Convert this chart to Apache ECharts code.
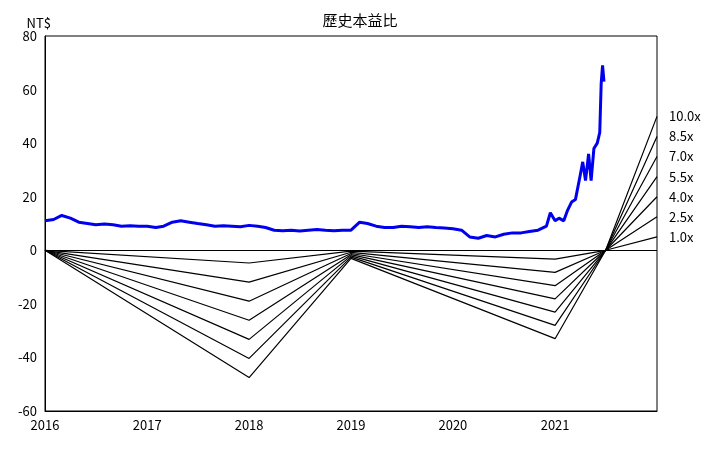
<!DOCTYPE html>
<html><head><meta charset="utf-8">
<script src="https://cdn.jsdelivr.net/npm/echarts@6/dist/echarts.min.js"></script>
<style>html,body{margin:0;padding:0;background:#fff}#c{width:720px;height:455px}</style>
</head><body><div id="c"></div>
<script>
const priceDates = ["2016-01-01","2016-02-01","2016-03-01","2016-04-01","2016-05-01","2016-06-01","2016-07-01","2016-08-01","2016-09-01","2016-10-01","2016-11-01","2016-12-01",
"2017-01-01","2017-02-01","2017-03-01","2017-04-01","2017-05-01","2017-06-01","2017-07-01","2017-08-01","2017-09-01","2017-10-01","2017-11-01","2017-12-01",
"2018-01-01","2018-02-01","2018-03-01","2018-04-01","2018-05-01","2018-06-01","2018-07-01","2018-08-01","2018-09-01","2018-10-01","2018-11-01","2018-12-01",
"2019-01-01","2019-02-01","2019-03-01","2019-04-01","2019-05-01","2019-06-01","2019-07-01","2019-08-01","2019-09-01","2019-10-01","2019-11-01","2019-12-01",
"2020-01-01","2020-02-01","2020-03-01","2020-04-01","2020-05-01","2020-06-01","2020-07-01","2020-08-01","2020-09-01","2020-10-01","2020-11-01","2020-12-01","2020-12-15",
"2021-01-01","2021-01-15","2021-02-01","2021-02-15","2021-03-01","2021-03-15","2021-04-01","2021-04-10","2021-04-20","2021-05-01","2021-05-10","2021-05-20","2021-06-01","2021-06-10","2021-06-15","2021-06-20","2021-06-25"];
const priceValues = [11,11.5,13,12,10.5,10,9.5,9.8,9.5,9,9.2,9,
9,8.5,9,10.5,11,10.5,10,9.5,9,9.2,9,8.8,
9.3,9,8.5,7.5,7.3,7.5,7.2,7.5,7.8,7.5,7.3,7.5,
7.5,10.5,10,9,8.5,8.5,9,8.8,8.5,8.8,8.5,8.3,
8,7.5,5,4.5,5.5,5,6,6.5,6.5,7,7.5,9,14,
11,12,11,15,18,19,28,33,26,36,26,38,40,44,62,69,63];
const epsDates = ["2016-01-01","2018-01-01","2019-01-01","2021-01-01","2021-07-01","2022-01-01"];
const epsValues = [0,-4.75,-0.3,-3.3,0,5.0];
const multiples = [10.0,8.5,7.0,5.5,4.0,2.5,1.0];
const YEAR = 365.25*24*3600*1000;

const series = [{
  type:'line', name:'price', data: priceDates.map((d,i)=>[d,priceValues[i]]),
  showSymbol:false, lineStyle:{color:'#0000ee',width:3}, z:5,
  markLine:{silent:true,symbol:'none',label:{show:false},lineStyle:{color:'#000',width:1,type:'solid'},data:[{yAxis:0}]}
}];
multiples.forEach(m=>{
  series.push({type:'line',name:m.toFixed(1)+'x',data:epsDates.map((d,i)=>[d,+(epsValues[i]*m).toFixed(3)]),
    showSymbol:false,lineStyle:{color:'#000',width:1.2},
    endLabel:{show:true,formatter:m.toFixed(1)+'x',color:'#000',fontSize:13,offset:[4,0]}});
});
const chart = echarts.init(document.getElementById('c'));
chart.setOption({
  animation:false,
  textStyle:{fontFamily:'"Noto Sans CJK TC", sans-serif'},
  title:{text:'歷史本益比',left:'center',top:8,textStyle:{fontSize:15,fontWeight:'normal',color:'#000'}},
  grid:{left:45,right:63,top:36,bottom:44,show:true,borderColor:'#000',borderWidth:1},
  xAxis:{type:'time',min:'2016-01-01',max:'2022-01-01',minInterval:YEAR*0.99,maxInterval:YEAR*1.01,
    axisLine:{onZero:false,lineStyle:{color:'#000'}},axisTick:{show:false},splitLine:{show:false},
    axisLabel:{color:'#000',fontSize:13,formatter:v=>String(new Date(v).getFullYear()),showMaxLabel:false}},
  yAxis:{type:'value',min:-60,max:80,interval:20,name:'NT$',nameGap:6,
    nameTextStyle:{color:'#000',fontSize:13,align:'right',padding:[0,-6,0,0]},
    axisLine:{show:true,lineStyle:{color:'#000'}},axisTick:{show:false},splitLine:{show:false},
    axisLabel:{color:'#000',fontSize:13}},
  series
});
</script></body></html>
